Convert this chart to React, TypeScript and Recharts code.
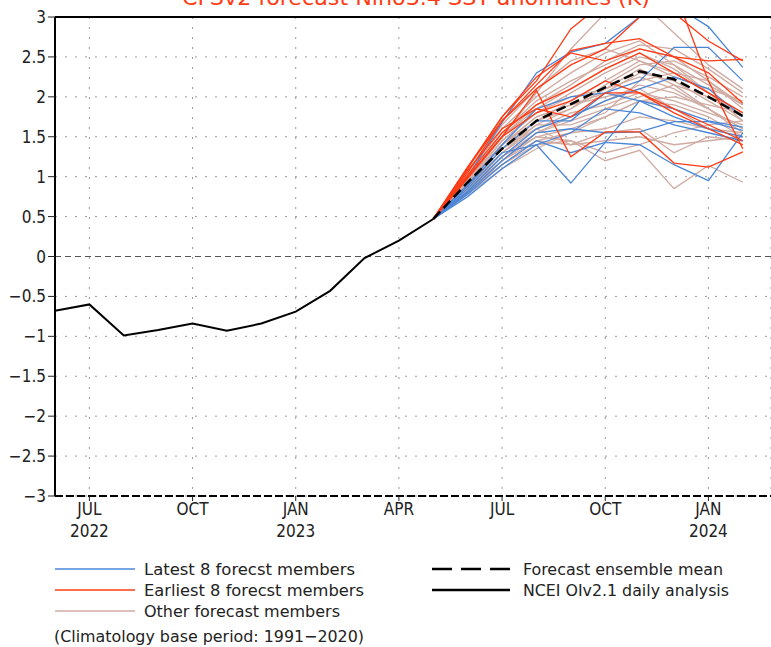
import React from "react";
import { LineChart, Line, XAxis, YAxis, CartesianGrid, ReferenceLine } from "recharts";

const obsMonths = ["2022-06", "2022-07", "2022-08", "2022-09", "2022-10", "2022-11", "2022-12", "2023-01", "2023-02", "2023-03", "2023-04", "2023-05"];
const obsValues = [-0.68, -0.6, -0.99, -0.92, -0.84, -0.93, -0.84, -0.69, -0.43, -0.02, 0.2, 0.47];

const forecastMonths = ["2023-05", "2023-06", "2023-07", "2023-08", "2023-09", "2023-10", "2023-11", "2023-12", "2024-01", "2024-02"];
const meanValues = [0.47, 0.93, 1.35, 1.7, 1.91, 2.12, 2.32, 2.22, 2.0, 1.76];

const latestMembers = [
  [0.47, 1.0, 1.68, 2.3, 2.56, 2.67, 3.0, 3.15, 2.88, 2.37],
  [0.47, 0.85, 1.3, 1.4, 0.92, 1.43, 1.95, 1.85, 1.7, 1.62],
  [0.47, 0.78, 1.15, 1.45, 1.3, 1.43, 1.4, 1.15, 0.95, 1.55],
  [0.47, 0.8, 1.2, 1.55, 1.6, 1.55, 1.56, 1.69, 1.69, 1.58],
  [0.47, 0.9, 1.4, 1.85, 2.0, 2.05, 2.2, 2.62, 2.62, 2.2],
  [0.47, 0.75, 1.1, 1.4, 1.55, 1.85, 1.8, 1.65, 1.55, 1.45],
  [0.47, 0.82, 1.25, 1.6, 1.75, 1.95, 2.1, 2.25, 2.1, 1.75],
  [0.47, 0.88, 1.35, 1.7, 1.7, 2.05, 1.95, 1.75, 1.6, 1.5],
];

const earliestMembers = [
  [0.47, 1.12, 1.75, 2.2, 2.85, 3.2, 3.35, 3.05, 2.7, 2.45],
  [0.47, 1.05, 1.7, 2.1, 2.4, 2.6, 3.0, 3.35, 2.2, 1.35],
  [0.47, 1.0, 1.5, 2.08, 1.25, 1.56, 1.56, 1.17, 1.12, 1.31],
  [0.47, 1.12, 1.7, 2.15, 2.58, 2.67, 2.73, 2.5, 2.45, 2.47],
  [0.47, 1.08, 1.6, 1.85, 1.75, 2.05, 2.05, 1.8, 1.6, 1.4],
  [0.47, 1.02, 1.55, 1.9, 2.1, 2.35, 2.55, 2.3, 2.05, 1.8],
  [0.47, 0.98, 1.5, 1.8, 1.95, 2.2, 2.05, 1.85, 1.65, 1.45],
  [0.47, 1.1, 1.75, 2.25, 2.55, 2.45, 2.6, 2.5, 2.3, 1.92],
];

const otherMembers = [
  [0.47, 0.95, 1.45, 1.8, 2.05, 2.3, 2.5, 2.4, 2.15, 1.9],
  [0.47, 0.9, 1.35, 1.7, 1.95, 2.2, 2.45, 2.3, 2.05, 1.8],
  [0.47, 0.92, 1.4, 1.75, 1.9, 2.05, 2.3, 2.2, 1.95, 1.7],
  [0.47, 0.85, 1.25, 1.55, 1.75, 1.95, 2.15, 2.05, 1.85, 1.6],
  [0.47, 0.88, 1.3, 1.65, 1.85, 2.15, 2.4, 2.45, 2.25, 2.0],
  [0.47, 1.0, 1.5, 1.85, 2.1, 2.35, 2.55, 2.35, 2.05, 1.75],
  [0.47, 0.8, 1.2, 1.45, 1.55, 1.6, 1.75, 1.7, 1.6, 1.55],
  [0.47, 0.95, 1.55, 1.95, 2.2, 2.4, 2.6, 2.5, 2.2, 1.85],
  [0.47, 0.83, 1.15, 1.4, 1.45, 1.3, 1.4, 1.55, 1.65, 1.7],
  [0.47, 0.85, 1.2, 1.5, 1.45, 1.2, 1.33, 0.85, 1.14, 0.93],
  [0.47, 0.9, 1.35, 1.6, 1.4, 1.45, 1.5, 1.4, 1.45, 1.5],
  [0.47, 0.92, 1.45, 1.8, 2.0, 2.1, 2.25, 2.1, 1.85, 1.6],
  [0.47, 0.97, 1.5, 1.9, 2.15, 2.45, 2.65, 2.6, 2.35, 2.05],
  [0.47, 0.87, 1.3, 1.6, 1.8, 1.9, 2.05, 1.95, 1.8, 1.65],
  [0.47, 0.78, 1.1, 1.35, 1.55, 1.75, 1.95, 2.0, 1.9, 1.8],
  [0.47, 1.02, 1.6, 2.0, 2.3, 2.55, 2.7, 2.4, 2.05, 1.7],
  [0.47, 0.93, 1.4, 1.75, 1.9, 2.0, 2.1, 1.85, 1.6, 1.4],
  [0.47, 0.86, 1.25, 1.5, 1.6, 1.75, 1.95, 1.9, 1.75, 1.5],
  [0.47, 0.9, 1.4, 1.7, 1.85, 2.1, 2.35, 2.15, 1.85, 1.55],
  [0.47, 0.95, 1.5, 2.05, 2.6, 3.05, 3.2, 2.8, 2.4, 2.1],
  [0.47, 1.05, 1.65, 2.1, 2.45, 2.6, 2.45, 2.25, 2.1, 1.95],
  [0.47, 0.82, 1.2, 1.55, 1.7, 1.85, 2.0, 2.15, 2.0, 1.75],
  [0.47, 0.88, 1.35, 1.65, 1.65, 1.8, 2.2, 2.3, 2.2, 1.9],
  [0.47, 0.8, 1.15, 1.45, 1.4, 1.55, 1.6, 1.3, 1.5, 1.45],
];

const tickMonths = ["2022-07", "2022-10", "2023-01", "2023-04", "2023-07", "2023-10", "2024-01"];
const tickMonthLabels = ["JUL", "OCT", "JAN", "APR", "JUL", "OCT", "JAN"];
const tickYearLabels = ["2022", "", "2023", "", "", "", "2024"];
const yTicks = [-3, -2.5, -2, -1.5, -1, -0.5, 0, 0.5, 1, 1.5, 2, 2.5, 3];

const titleText = "CFSv2 forecast Nino3.4 SST anomalies (K)";
const legendLatest = "Latest 8 forecst members";
const legendEarliest = "Earliest 8 forecst members";
const legendOther = "Other forecast members";
const legendMean = "Forecast ensemble mean";
const legendObs = "NCEI OIv2.1 daily analysis";
const climNote = "(Climatology base period: 1991\u22122020)";

const BLUE = "#4a86d8";
const RED = "#ff3b14";
const OTHER = "#d0aba2";
const FONT = "'Liberation Sans Narrow', 'DejaVu Sans Condensed', 'Liberation Sans', sans-serif";

const monthIndex = (s: string) => {
  const [y, m] = s.split("-").map(Number);
  return (y - 2022) * 12 + (m - 6);
};

const buildData = () => {
  const rows: Record<number, any> = {};
  const get = (t: number) => {
    if (!rows[t]) rows[t] = { t };
    return rows[t];
  };
  obsMonths.forEach((m, i) => (get(monthIndex(m)).obs = obsValues[i]));
  forecastMonths.forEach((m, i) => {
    const r = get(monthIndex(m));
    r.mean = meanValues[i];
    latestMembers.forEach((s, k) => (r[`b${k}`] = s[i]));
    earliestMembers.forEach((s, k) => (r[`r${k}`] = s[i]));
    otherMembers.forEach((s, k) => (r[`o${k}`] = s[i]));
  });
  return Object.values(rows).sort((a: any, b: any) => a.t - b.t);
};

const data = buildData();
const tickValues = tickMonths.map(monthIndex);

const fmtY = (v: number) => (v < 0 ? "\u2212" + String(-v) : String(v));

const XTick = (props: any) => {
  const { x, y, payload } = props;
  const i = tickValues.indexOf(payload.value);
  return (
    <g>
      <text x={x} y={y + 12} textAnchor="middle" fontSize={17} fontFamily={FONT} fill="#222">
        {tickMonthLabels[i]}
      </text>
      {tickYearLabels[i] ? (
        <text x={x} y={y + 34} textAnchor="middle" fontSize={17} fontFamily={FONT} fill="#222">
          {tickYearLabels[i]}
        </text>
      ) : null}
    </g>
  );
};

const YTick = (props: any) => {
  const { x, y, payload } = props;
  return (
    <text x={x} y={y + 6} textAnchor="end" fontSize={17} fontFamily={FONT} fill="#222">
      {fmtY(payload.value)}
    </text>
  );
};

export default function App() {
  return (
    <div style={{ position: "absolute", left: 0, top: 0, width: 771, height: 647, background: "#fff", overflow: "hidden" }}>
      <LineChart width={771} height={647} data={data} margin={{ top: 17, right: 0, left: 5, bottom: 106 }}>
        <CartesianGrid stroke="#9a9a9a" strokeDasharray="2 8" />
        <XAxis
          type="number"
          dataKey="t"
          domain={[0, 20.82]}
          ticks={tickValues}
          interval={0}
          allowDataOverflow
          axisLine={false}
          tickLine={{ stroke: "#222", strokeWidth: 1 }}
          tickSize={5}
          height={45}
          tick={<XTick />}
        />
        <YAxis
          type="number"
          domain={[-3, 3]}
          ticks={yTicks}
          interval={0}
          allowDataOverflow
          width={50}
          tickSize={7}
          axisLine={{ stroke: "#000", strokeWidth: 2 }}
          tickLine={{ stroke: "#222", strokeWidth: 1 }}
          tick={<YTick />}
        />
        <ReferenceLine y={0} stroke="#555" strokeWidth={1} strokeDasharray="6 4" />
        {otherMembers.map((_, k) => (
          <Line key={`o${k}`} dataKey={`o${k}`} stroke={OTHER} strokeWidth={1.3} dot={false} isAnimationActive={false} />
        ))}
        {latestMembers.map((_, k) => (
          <Line key={`b${k}`} dataKey={`b${k}`} stroke={BLUE} strokeWidth={1.3} dot={false} isAnimationActive={false} />
        ))}
        {earliestMembers.map((_, k) => (
          <Line key={`r${k}`} dataKey={`r${k}`} stroke={RED} strokeWidth={1.3} dot={false} isAnimationActive={false} />
        ))}
        <Line dataKey="mean" stroke="#000" strokeWidth={2.5} strokeDasharray="10 5" dot={false} isAnimationActive={false} />
        <Line dataKey="obs" stroke="#000" strokeWidth={2} dot={false} isAnimationActive={false} />
        <ReferenceLine y={3} stroke="#000" strokeWidth={2} />
        <ReferenceLine y={-3} stroke="#000" strokeWidth={2} strokeDasharray="8 3" />
      </LineChart>
      <svg width={771} height={647} style={{ position: "absolute", left: 0, top: 0, pointerEvents: "none" }}>
        <text x={182} y={5} fontSize={22} fontFamily={FONT} fill="#ff3b14" textLength={468} lengthAdjust="spacingAndGlyphs">
          {titleText}
        </text>
        <line x1={55} x2={135} y1={569} y2={569} stroke={BLUE} strokeWidth={1.5} />
        <line x1={55} x2={135} y1={590} y2={590} stroke={RED} strokeWidth={1.5} />
        <line x1={55} x2={135} y1={611} y2={611} stroke={OTHER} strokeWidth={1.5} />
        <text x={144} y={575} fontSize={16} fontFamily={FONT} fill="#222" textLength={211} lengthAdjust="spacingAndGlyphs">{legendLatest}</text>
        <text x={144} y={596} fontSize={16} fontFamily={FONT} fill="#222" textLength={220} lengthAdjust="spacingAndGlyphs">{legendEarliest}</text>
        <text x={144} y={617} fontSize={16} fontFamily={FONT} fill="#222" textLength={196} lengthAdjust="spacingAndGlyphs">{legendOther}</text>
        <text x={54} y={642} fontSize={16} fontFamily={FONT} fill="#222" textLength={310} lengthAdjust="spacingAndGlyphs">{climNote}</text>
        <line x1={432} x2={510} y1={569} y2={569} stroke="#000" strokeWidth={2.5} strokeDasharray="20 9" />
        <line x1={432} x2={510} y1={590} y2={590} stroke="#000" strokeWidth={2.5} />
        <text x={523} y={575} fontSize={16} fontFamily={FONT} fill="#222" textLength={200} lengthAdjust="spacingAndGlyphs">{legendMean}</text>
        <text x={523} y={596} fontSize={16} fontFamily={FONT} fill="#222" textLength={206} lengthAdjust="spacingAndGlyphs">{legendObs}</text>
      </svg>
    </div>
  );
}
